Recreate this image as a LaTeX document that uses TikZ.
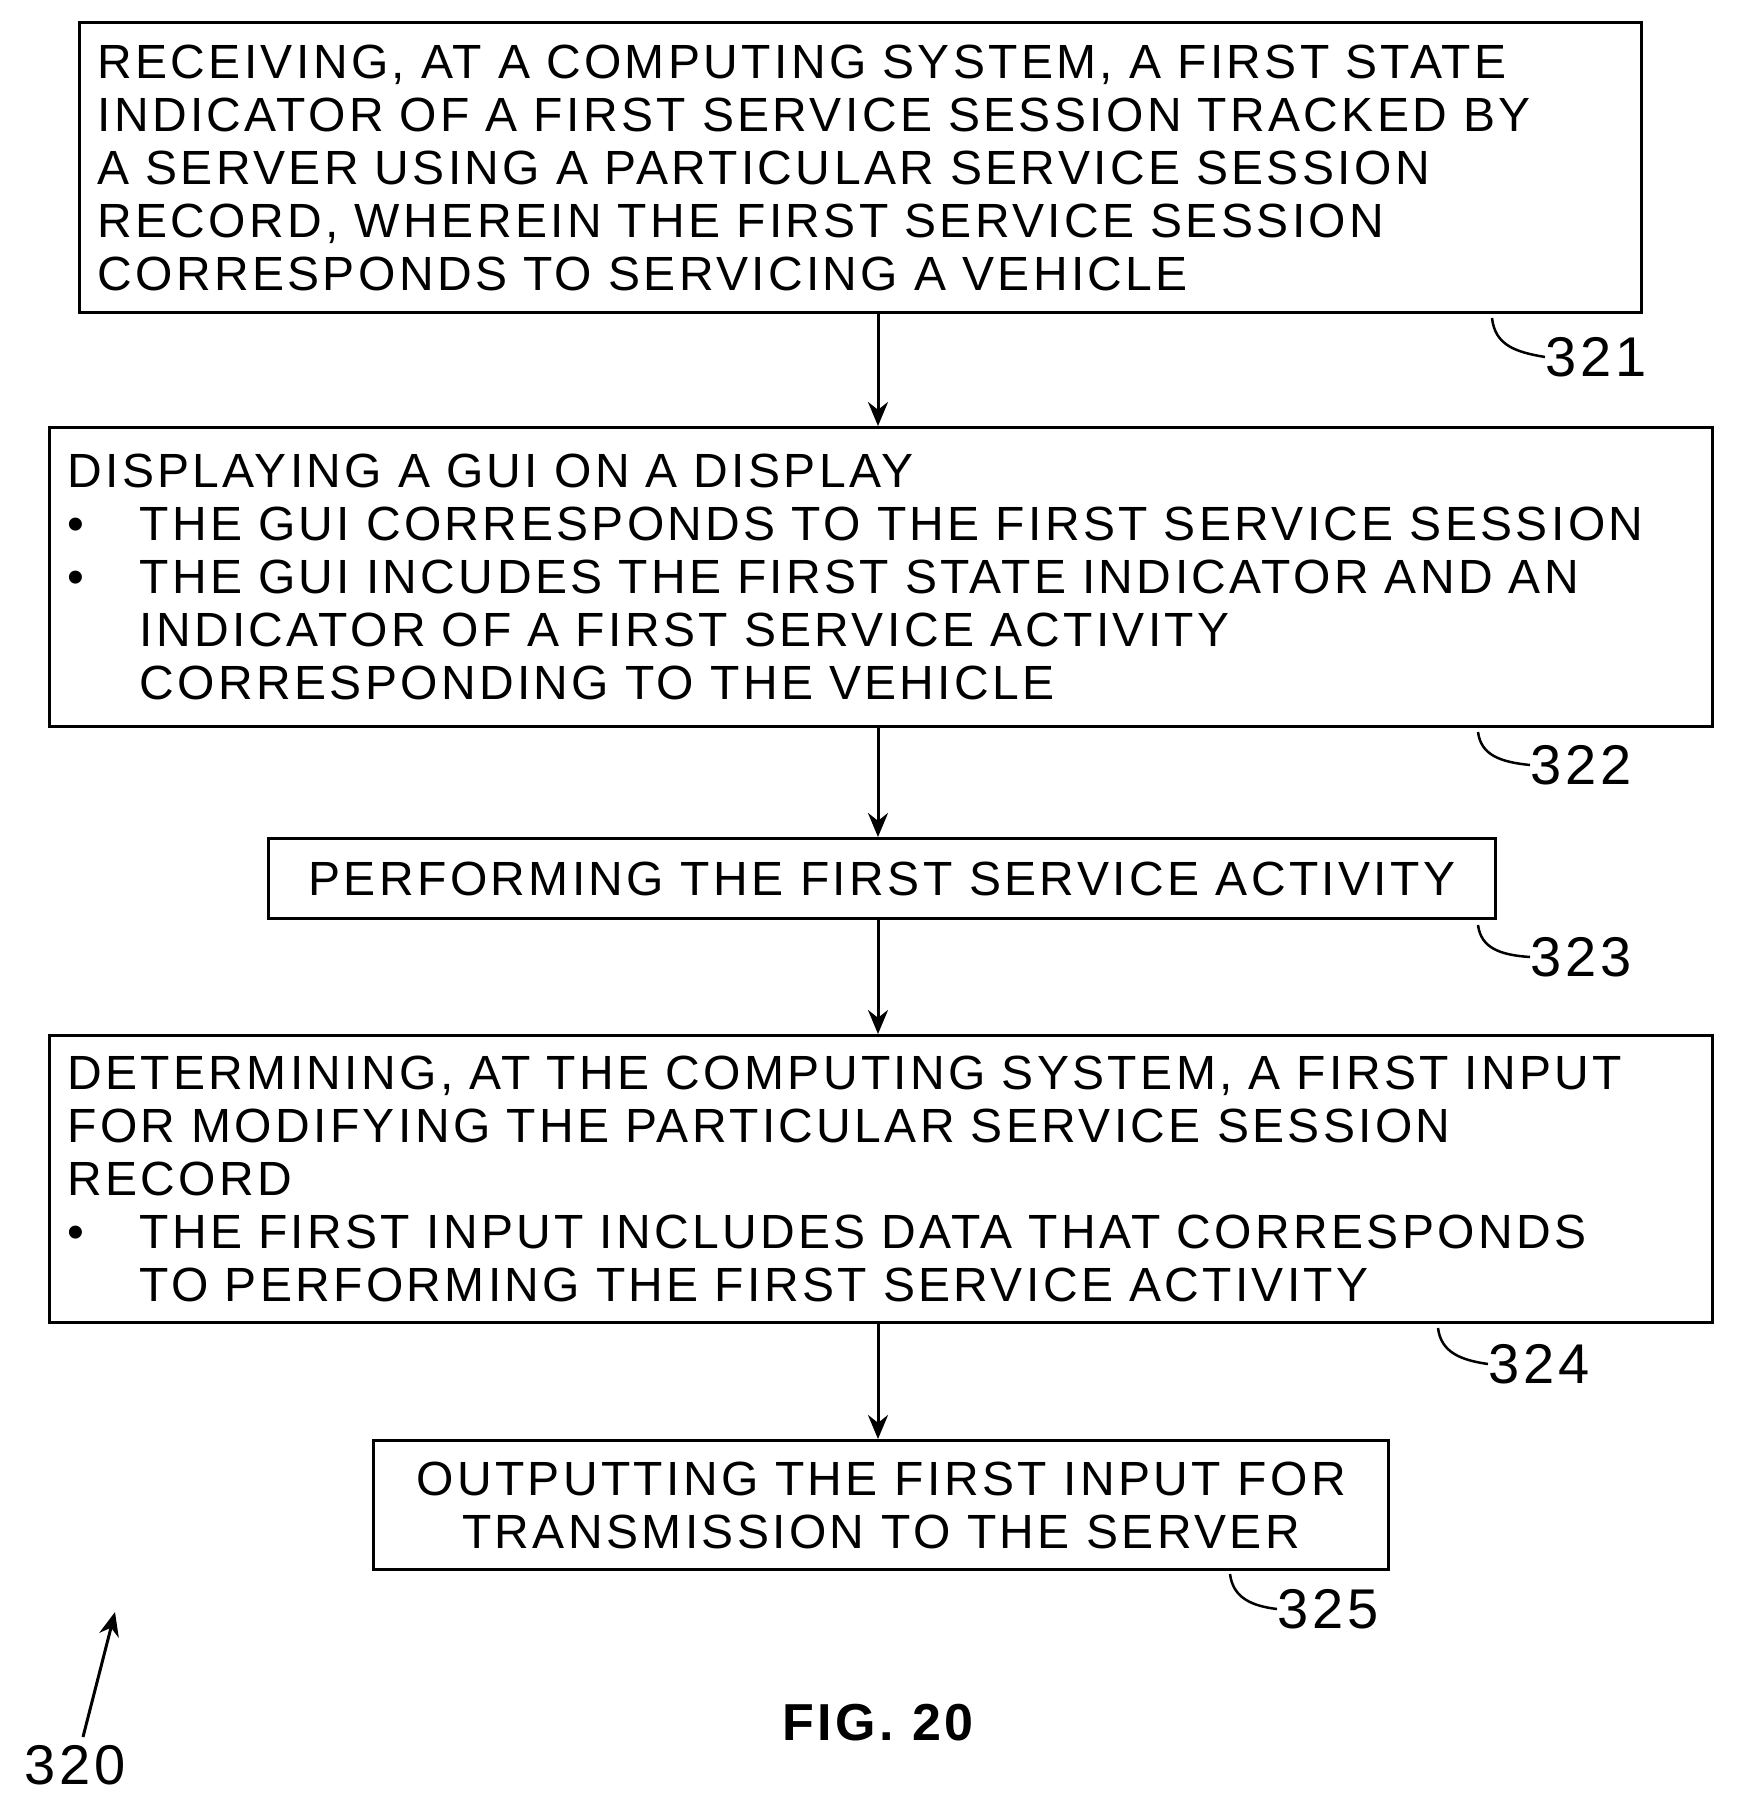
\documentclass[tikz,border=0pt]{standalone}
\usepackage{fontspec}
\setmainfont{Liberation Sans}[LetterSpace=7]
\usetikzlibrary{arrows.meta}

\tikzset{
  box/.style={draw, line width=3pt, anchor=north west, inner xsep=18pt, inner ysep=0pt,
    align=left, font=\fontsize{48}{53}\selectfont},
  flow/.style={-{Stealth[length=24pt,width=20pt]}, line width=3pt},
  tag/.style={font=\fontsize{56}{60}\selectfont, anchor=west, inner sep=0pt},
  lead/.style={line width=2.5pt}
}
\newcommand{\bul}{\makebox[72pt][l]{\textbullet}}
\newcommand{\ind}{\hspace*{72pt}}

\begin{document}
\begin{tikzpicture}[x=1pt,y=-1pt]
		\useasboundingbox (0,0) rectangle (1738,1808);

		\node[box, minimum width=1562pt, minimum height=290pt, text width=1526pt] (receive) at (78,21)
		  {RECEIVING, AT A COMPUTING SYSTEM, A FIRST STATE\\
		   INDICATOR OF A FIRST SERVICE SESSION TRACKED BY\\
		   A SERVER USING A PARTICULAR SERVICE SESSION\\
		   RECORD, WHEREIN THE FIRST SERVICE SESSION\\
		   CORRESPONDS TO SERVICING A VEHICLE};
		\node[box, minimum width=1663pt, minimum height=299pt, text width=1627pt] (display) at (48,426)
		  {DISPLAYING A GUI ON A DISPLAY\\
		   \bul THE GUI CORRESPONDS TO THE FIRST SERVICE SESSION\\
		   \bul THE GUI INCUDES THE FIRST STATE INDICATOR AND AN\\
		   \ind INDICATOR OF A FIRST SERVICE ACTIVITY\\
		   \ind CORRESPONDING TO THE VEHICLE};
		\node[box, align=center, minimum width=1227pt, minimum height=80pt] (perform) at (267,837)
		  {PERFORMING THE FIRST SERVICE ACTIVITY};
		\node[box, minimum width=1663pt, minimum height=287pt, text width=1627pt] (determine) at (48,1034)
		  {DETERMINING, AT THE COMPUTING SYSTEM, A FIRST INPUT\\
		   FOR MODIFYING THE PARTICULAR SERVICE SESSION\\
		   RECORD\\
		   \bul THE FIRST INPUT INCLUDES DATA THAT CORRESPONDS\\
		   \ind TO PERFORMING THE FIRST SERVICE ACTIVITY};
		\node[box, align=center, minimum width=1015pt, minimum height=129pt] (output) at (372,1439)
		  {OUTPUTTING THE FIRST INPUT FOR\\TRANSMISSION TO THE SERVER};

		% connectors
		\coordinate (a1) at (878,311); \coordinate (b1) at (878,426);
		\coordinate (a2) at (878,725); \coordinate (b2) at (878,837);
		\coordinate (a3) at (878,917); \coordinate (b3) at (878,1034);
		\coordinate (a4) at (878,1321); \coordinate (b4) at (878,1439);
		\draw[flow] (a1) -- (b1);
		\draw[flow] (a2) -- (b2);
		\draw[flow] (a3) -- (b3);
		\draw[flow] (a4) -- (b4);

		% reference numerals
		\node[tag] (n321) at (1545,357) {321};
		\node[tag] (n322) at (1530,765) {322};
		\node[tag] (n323) at (1530,957) {323};
		\node[tag] (n324) at (1488,1364) {324};
		\node[tag] (n325) at (1277,1609) {325};
		\draw[lead] (1492,318) .. controls (1495,345) and (1515,352) .. (n321.west);
		\draw[lead] (1478,732) .. controls (1481,755) and (1500,762) .. (n322.west);
		\draw[lead] (1478,925) .. controls (1481,948) and (1500,955) .. (n323.west);
		\draw[lead] (1438,1328) .. controls (1441,1352) and (1460,1360) .. (n324.west);
		\draw[lead] (1230,1574) .. controls (1233,1598) and (1252,1606) .. (n325.west);

		\node[tag, anchor=center] (n320) at (75,1765) {320};
		\coordinate (p320) at (115,1612);
		\draw[flow] (n320.north) ++(8,-8) -- (p320);

		\node[font=\bfseries\fontsize{52}{56}\selectfont] (fig) at (878,1723) {FIG. 20};
\end{tikzpicture}
\end{document}
